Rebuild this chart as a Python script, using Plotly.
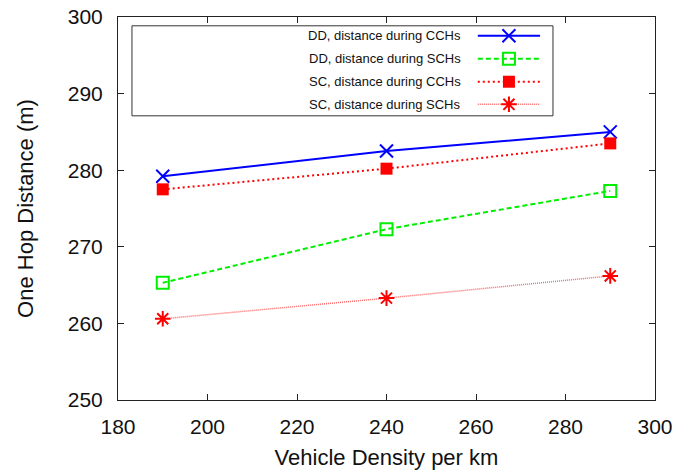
import plotly.graph_objects as go

# Vehicle density (vehicles per km)
density = [190, 240, 290]

# One-hop distance (m) per scheme and channel interval
dd_cch = [279.2, 282.5, 285.0]
dd_sch = [265.3, 272.3, 277.3]
sc_cch = [277.5, 280.2, 283.5]
sc_sch = [260.6, 263.3, 266.2]

series_names = [
    "DD, distance during CCHs",
    "DD, distance during SCHs",
    "SC, distance during CCHs",
    "SC, distance during SCHs",
]

x_ticks = [180, 200, 220, 240, 260, 280, 300]
y_ticks = [250, 260, 270, 280, 290, 300]

FONT = "Liberation Sans, Arial, Helvetica, sans-serif"

styles = [
    dict(line=dict(color="#0000ff", width=2, dash="solid"),
         marker=dict(symbol="x-thin-open", size=13, color="#0000ff",
                     line=dict(color="#0000ff", width=2))),
    dict(line=dict(color="#00ee00", width=2, dash="5px,3px"),
         marker=dict(symbol="square-open", size=12, color="#00ee00",
                     line=dict(color="#00ee00", width=2))),
    dict(line=dict(color="#ff0000", width=2, dash="2px,3px"),
         marker=dict(symbol="square", size=12, color="#ff0000",
                     line=dict(width=0))),
    dict(line=dict(color="#ff6666", width=1.5, dash="1px,1px"),
         marker=dict(symbol="asterisk-open", size=13, color="#ff0000",
                     line=dict(color="#ff0000", width=2))),
]

fig = go.Figure()

for name, ys, st in zip(series_names, [dd_cch, dd_sch, sc_cch, sc_sch], styles):
    fig.add_trace(go.Scatter(
        x=density, y=ys, mode="lines+markers", name=name,
        line=st["line"], marker=st["marker"], showlegend=False,
    ))

# Boxed key in the upper-left corner: text right-aligned, sample on the right
box_x0, box_x1 = 0.026, 0.810
box_y0, box_y1 = 0.742, 0.977
row_y = [0.951, 0.891, 0.831, 0.772]
text_right = 0.643
sample_x0, sample_x1, sample_mid = 0.670, 0.786, 0.728

fig.add_shape(type="rect", xref="paper", yref="paper",
              x0=box_x0, x1=box_x1, y0=box_y0, y1=box_y1,
              line=dict(color="#333333", width=1), fillcolor="rgba(0,0,0,0)", layer="above")

for name, yk, st in zip(series_names, row_y, styles):
    fig.add_trace(go.Scatter(
        x=[sample_x0, sample_x1], y=[yk, yk], mode="lines",
        line=st["line"], xaxis="x2", yaxis="y2", showlegend=False, hoverinfo="skip",
    ))
    fig.add_trace(go.Scatter(
        x=[sample_mid], y=[yk], mode="markers",
        marker=st["marker"], xaxis="x2", yaxis="y2", showlegend=False, hoverinfo="skip",
    ))
    fig.add_annotation(text=name, xref="paper", yref="paper",
                       x=text_right, y=yk, xanchor="right", yanchor="middle",
                       showarrow=False, font=dict(family=FONT, size=13, color="#111111"))

axis_common = dict(
    showgrid=False, zeroline=False, showline=True, linecolor="#222222", linewidth=1,
    mirror="ticks", ticks="inside", ticklen=6, tickcolor="#222222", tickwidth=1,
    tickfont=dict(family=FONT, size=21, color="#111111"), automargin=False,
)

fig.update_layout(
    width=680, height=474,
    margin=dict(l=118, r=25, t=17, b=74),
    paper_bgcolor="white", plot_bgcolor="white",
    font=dict(family=FONT, color="#111111"),
    xaxis=dict(range=[180, 300], tickvals=x_ticks, ticklabelstandoff=8,
               title=dict(text="Vehicle Density per km", font=dict(family=FONT, size=22), standoff=12),
               **axis_common),
    yaxis=dict(range=[250, 300], tickvals=y_ticks, ticklabelstandoff=10,
               title=dict(text="One Hop Distance (m)", font=dict(family=FONT, size=22), standoff=28),
               **axis_common),
    xaxis2=dict(range=[0, 1], overlaying="x", visible=False, fixedrange=True),
    yaxis2=dict(range=[0, 1], overlaying="y", visible=False, fixedrange=True),
    showlegend=False,
)

fig.write_html("out.html")
